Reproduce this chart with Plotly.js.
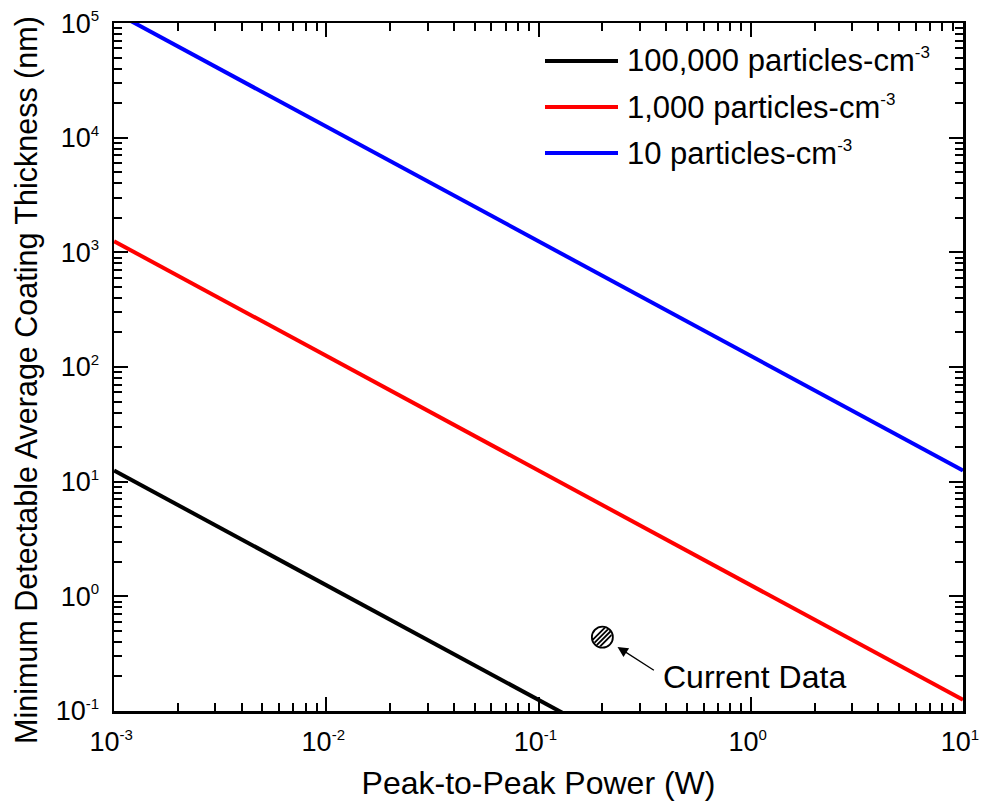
<!DOCTYPE html>
<html>
<head>
<meta charset="utf-8">
<script src="https://cdn.plot.ly/plotly-3.0.1.min.js"></script>
<style>
  html, body { margin: 0; padding: 0; background: #fff; }
  #chart { width: 981px; height: 810px; }
</style>
</head>
<body>
<div id="chart"></div>
<script>
// Peak-to-peak power (W) at which each detection limit is evaluated
const powerW = [0.001, 0.01, 0.1, 1, 10];

// Minimum detectable average coating thickness (nm) for three particle concentrations
const thickness100k = [12.5, 1.25, 0.125, 0.0125, 0.00125];
const thickness1k = [1250, 125, 12.5, 1.25, 0.125];
const thickness10 = [125000, 12500, 1250, 125, 12.5];

const seriesNames = [
  '100,000 particles-cm<sup><span style="font-size:17px">-3</span></sup>',
  '1,000 particles-cm<sup><span style="font-size:17px">-3</span></sup>',
  '10 particles-cm<sup><span style="font-size:17px">-3</span></sup>'
];
const seriesColors = ['#000000', '#ff0000', '#0000ff'];

// Measured point
const currentPower = [0.2];
const currentThickness = [0.44];
const currentLabel = 'Current Data';

// Axis ticks and titles
const xTickVals = [0.001, 0.01, 0.1, 1, 10];
const xExponents = ['-3', '-2', '-1', '0', '1'];
const yTickVals = [0.1, 1, 10, 100, 1000, 10000, 100000];
const yExponents = ['-1', '0', '1', '2', '3', '4', '5'];
const xTitle = 'Peak-to-Peak Power (W)';
const yTitle = 'Minimum Detectable Average Coating Thickness (nm)';

const powerLabel = e => '10<sup><span style="font-size:15px">' + e + '</span></sup>';
const xTickText = xExponents.map(powerLabel);
const yTickText = yExponents.map(powerLabel);

// minor ticks at 2..9 within each decade
function minorTicks(majors) {
  const out = [];
  for (let i = 0; i < majors.length - 1; i++) {
    for (let d = 2; d <= 9; d++) out.push(majors[i] * d);
  }
  return out;
}

const FONT = 'Liberation Sans, Arial, Helvetica, sans-serif';
const W = 981, H = 810;
const M = { l: 114, r: 18, t: 23, b: 99 };
const plotW = W - M.l - M.r, plotH = H - M.t - M.b;
const EPS = 0.0004;
const xRange = [-3 - EPS, 1 + EPS], yRange = [-1 - EPS, 5 + EPS];

const seriesY = [thickness100k, thickness1k, thickness10];
const traces = seriesY.map((ys, i) => ({
  x: powerW,
  y: ys,
  type: 'scatter',
  mode: 'lines',
  name: seriesNames[i],
  line: { color: seriesColors[i], width: 4 },
  showlegend: false,
  hoverinfo: 'x+y'
}));

traces.push({
  x: currentPower,
  y: currentThickness,
  type: 'scatter',
  mode: 'markers',
  name: currentLabel,
  marker: { symbol: 'circle', size: 21, color: '#ffffff', line: { color: '#000000', width: 1.8 } },
  showlegend: false
});

// transparent copy of the point bound to the top/right frame axes
traces.push({
  x: currentPower, y: currentThickness, xaxis: 'x2', yaxis: 'y2',
  type: 'scatter', mode: 'markers', marker: { opacity: 0, size: 1 },
  showlegend: false, hoverinfo: 'skip'
});

// hatch fill drawn over the measured-point marker
const hatchSvg =
  '<svg xmlns="http://www.w3.org/2000/svg" width="22" height="22" viewBox="0 0 22 22">' +
  '<defs><clipPath id="c"><circle cx="11" cy="11" r="9.8"/></clipPath></defs>' +
  '<g clip-path="url(#c)" stroke="#000" stroke-width="1.8">' +
  '<line x1="-7" y1="22" x2="15" y2="0"/>' +
  '<line x1="-2.3" y1="22" x2="19.7" y2="0"/>' +
  '<line x1="2.3" y1="22" x2="24.3" y2="0"/>' +
  '<line x1="7" y1="22" x2="29" y2="0"/>' +
  '</g></svg>';
const hatchUri = 'data:image/svg+xml;base64,' + btoa(hatchSvg);
const pxPerDecX = plotW / (xRange[1] - xRange[0]);
const pxPerDecY = plotH / (yRange[1] - yRange[0]);

// legend drawn as line samples plus labels
const legendRowsPx = [61, 107, 153];
const legendShapes = legendRowsPx.map((py, i) => ({
  type: 'line', xref: 'paper', yref: 'paper',
  x0: (545 - M.l) / plotW, x1: (618 - M.l) / plotW,
  y0: (H - M.b - py) / plotH, y1: (H - M.b - py) / plotH,
  line: { color: seriesColors[i], width: 4 }
}));
const legendLabels = legendRowsPx.map((py, i) => ({
  xref: 'paper', yref: 'paper',
  x: (625 - M.l) / plotW, y: (H - M.b - py) / plotH,
  xanchor: 'left', yanchor: 'middle',
  text: seriesNames[i], showarrow: false,
  font: { family: FONT, size: 31, color: '#000' }
}));

const annotations = legendLabels.concat([
  {
    x: Math.log10(currentPower[0]), y: Math.log10(currentThickness[0]),
    xref: 'x', yref: 'y',
    ax: 53, ay: 34, text: '', showarrow: true,
    arrowhead: 2, arrowsize: 1.6, arrowwidth: 1.3, arrowcolor: '#000',
    standoff: 18
  },
  {
    xref: 'paper', yref: 'paper',
    x: (661 - M.l) / plotW, y: (H - M.b - 677) / plotH,
    xanchor: 'left', yanchor: 'middle',
    text: currentLabel, showarrow: false,
    font: { family: FONT, size: 32, color: '#000' }
  },
  {
    // vertical axis title
    xref: 'paper', yref: 'paper',
    x: (27 - M.l) / plotW, y: (H - M.b - 380) / plotH,
    xanchor: 'center', yanchor: 'middle',
    text: yTitle, textangle: -90, showarrow: false,
    font: { family: FONT, size: 30.5, color: '#000' }
  }
]);

const tickStyle = {
  type: 'log',
  ticks: 'inside', ticklen: 14, tickwidth: 2, tickcolor: '#000',
  showgrid: false, zeroline: false,
  tickmode: 'array'
};
const minorX = { tickvals: minorTicks(xTickVals), ticks: 'inside', ticklen: 8, tickwidth: 2, tickcolor: '#000', showgrid: false };
const minorY = { tickvals: minorTicks(yTickVals), ticks: 'inside', ticklen: 8, tickwidth: 2, tickcolor: '#000', showgrid: false };

const layout = {
  width: W, height: H,
  margin: M,
  paper_bgcolor: '#fff', plot_bgcolor: '#fff',
  font: { family: FONT, color: '#000' },
  showlegend: false,
  xaxis: Object.assign({}, tickStyle, {
    range: xRange,
    showline: true, linecolor: '#000', linewidth: 2.5, mirror: true,
    tickvals: xTickVals, ticktext: xTickText, minor: minorX,
    tickfont: { family: FONT, size: 27, color: '#000' },
    ticklabelstandoff: 5, ticklabelshift: -3, ticklabeloverflow: 'allow',
    title: { text: xTitle, font: { family: FONT, size: 32, color: '#000' }, standoff: 16 }
  }),
  yaxis: Object.assign({}, tickStyle, {
    range: yRange,
    showline: true, linecolor: '#000', linewidth: 2.5, mirror: true,
    tickvals: yTickVals, ticktext: yTickText, minor: minorY,
    tickfont: { family: FONT, size: 27, color: '#000' },
    ticklabelstandoff: 7, ticklabeloverflow: 'allow'
  }),
  // top and right axes carrying the mirrored tick marks
  xaxis2: Object.assign({}, tickStyle, {
    range: xRange, overlaying: 'x', side: 'top', anchor: 'y2',
    showline: false, showticklabels: false,
    tickvals: xTickVals, minor: minorX
  }),
  yaxis2: Object.assign({}, tickStyle, {
    range: yRange, overlaying: 'y', side: 'right', anchor: 'x2',
    showline: false, showticklabels: false,
    tickvals: yTickVals, minor: minorY
  }),
  shapes: legendShapes,
  annotations: annotations,
  images: [{
    source: hatchUri,
    xref: 'x', yref: 'y',
    x: Math.log10(currentPower[0]), y: Math.log10(currentThickness[0]),
    sizex: 22 / pxPerDecX, sizey: 22 / pxPerDecY,
    xanchor: 'center', yanchor: 'middle',
    sizing: 'stretch', layer: 'above'
  }]
};

Plotly.newPlot('chart', traces, layout, { displayModeBar: false, staticPlot: true });
</script>
</body>
</html>
